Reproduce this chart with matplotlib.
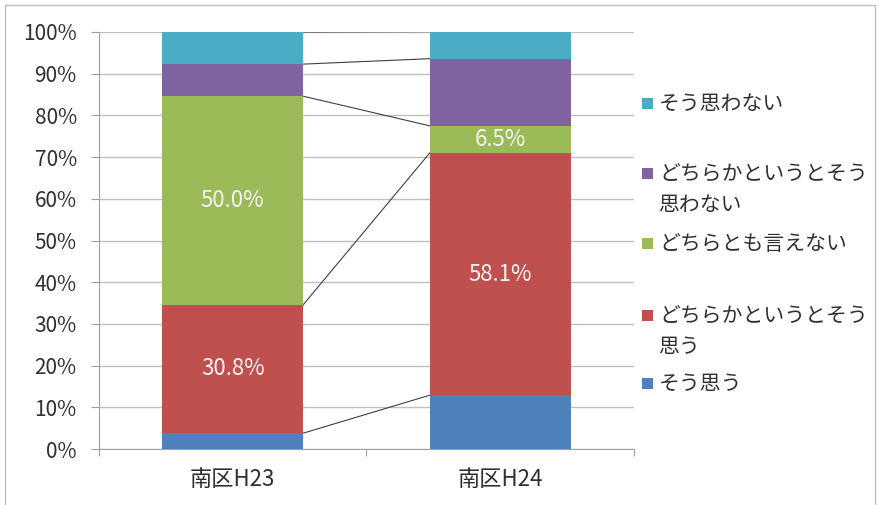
import matplotlib
matplotlib.use("Agg")
import matplotlib.pyplot as plt
from matplotlib.patches import Rectangle
import numpy as np

plt.rcParams['font.family'] = ['Noto Sans CJK JP', 'DejaVu Sans']

# データ
groups = ['南区H23', '南区H24']
series = ['そう思う', 'どちらかというとそう思う', 'どちらとも言えない',
          'どちらかというとそう思わない', 'そう思わない']
legend_labels = ['そう思う', 'どちらかというとそう\n思う', 'どちらとも言えない',
                 'どちらかというとそう\n思わない', 'そう思わない']
h23 = [3.8, 30.8, 50.0, 7.7, 7.7]
h24 = [12.9, 58.1, 6.5, 16.1, 6.5]
shown = [[False, True, True, False, False],
         [False, True, True, False, False]]
colors = ['#4F81BD', '#C0504D', '#9BBB59', '#8064A2', '#4BACC6']

values = np.array([h23, h24])
bottoms = np.cumsum(values, axis=1) - values
tops = np.cumsum(values, axis=1)

W, H = 879, 505
fig = plt.figure(figsize=(W / 100, H / 100), dpi=100)

# 外枠
fig.patches.append(Rectangle((5 / W, -0.05), 870 / W, 1.05 - 5 / H,
                             transform=fig.transFigure, fill=False,
                             edgecolor='#BFBFBF', linewidth=1))

ax = fig.add_axes([99 / W, 1 - 449 / H, 535 / W, 417 / H])
x = np.arange(len(groups))
bw = 0.527

for i, name in enumerate(series):
    ax.bar(x, values[:, i], bottom=bottoms[:, i], width=bw,
           color=colors[i], zorder=3)
    # 区分線
    ax.plot([x[0] + bw / 2, x[1] - bw / 2], [tops[0, i], tops[1, i]],
            color='#404040', linewidth=0.8, zorder=2)
    for j in range(len(groups)):
        if shown[j][i]:
            ax.text(x[j], bottoms[j, i] + values[j, i] / 2,
                    f'{values[j, i]:.1f}%', ha='center', va='center',
                    color='#F5F5F5', fontsize=16, zorder=4)

ax.set_xlim(-0.5, 1.5)
ax.set_ylim(0, 100)
ax.set_yticks(np.arange(0, 101, 10))
ax.set_yticklabels([f'{v}%' for v in range(0, 101, 10)], fontsize=15,
                   color='#303030')
ax.set_xticks([-0.5, 0.5, 1.5])
ax.set_xticklabels([])
ax.set_xticks(x, minor=True)
ax.set_xticklabels(groups, minor=True, fontsize=16, color='#303030')
ax.tick_params(axis='x', which='minor', length=0, pad=14)
ax.tick_params(axis='x', which='major', length=5, color='#A0A0A0')
ax.tick_params(axis='y', length=6, color='#A0A0A0', pad=10)
ax.grid(axis='y', color='#BFBFBF', linewidth=1, zorder=0)
for s in ['top', 'right']:
    ax.spines[s].set_visible(False)
for s in ['left', 'bottom']:
    ax.spines[s].set_color('#A0A0A0')

# 凡例（手描き）
legend_y = [383, 315, 243, 173, 103]
for i, lab in enumerate(legend_labels):
    y = legend_y[i]
    fig.patches.append(Rectangle((642 / W, 1 - (y + 6) / H), 11 / W, 11 / H,
                                 transform=fig.transFigure,
                                 facecolor=colors[i], edgecolor='none'))
    fig.text(659 / W, 1 - (y - 10) / H, lab, ha='left', va='top',
             fontsize=15, color='#303030', linespacing=1.55)

fig.savefig('out.png', dpi=100)
